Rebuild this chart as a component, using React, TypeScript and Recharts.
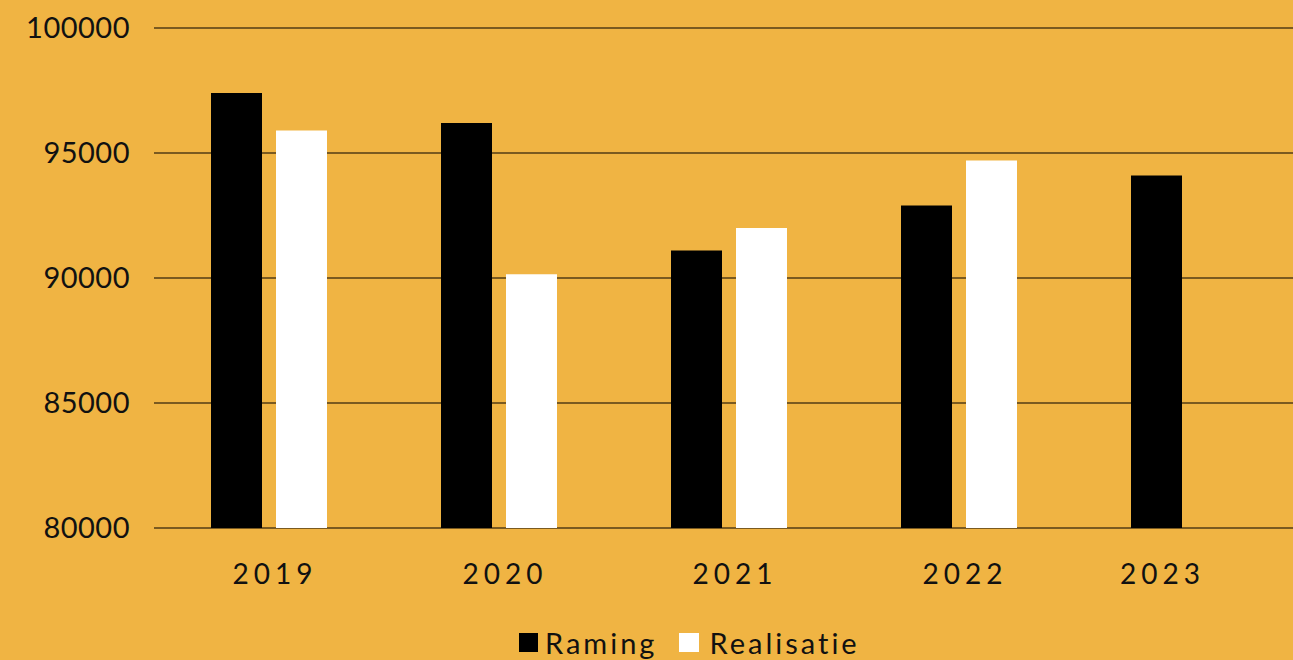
import React from 'react'
import { BarChart, Bar, XAxis, YAxis, CartesianGrid } from 'recharts'

const years = ['2019', '2020', '2021', '2022', '2023']
const raming = [97400, 96200, 91100, 92900, 94100]
const realisatie: (number | null)[] = [95900, 90150, 92000, 94700, null]
const yTicks = [80000, 85000, 90000, 95000, 100000]

const data = years.map((year, i) => ({ year, raming: raming[i], realisatie: realisatie[i] }))

const BG = '#F0B443'
const GRID = '#7A5A20'
const INK = '#111111'
const FONT = 'Lato, "DejaVu Sans", sans-serif'

const BAR = 51
const GAP = 14

const XTick = (props: any) => {
  const { x, y, payload, index } = props
  // single-bar years get their label under the bar, not the group
  const shift = realisatie[index] == null ? -(BAR + GAP) / 2 : 0
  return (
    <text x={x + shift + 6} y={y + 34} dy="0.71em" textAnchor="middle" fill={INK}
      fontSize={28} fontFamily={FONT} letterSpacing={5}>
      {payload.value}
    </text>
  )
}

export default function App() {
  return (
    <div style={{ position: 'absolute', left: 0, top: 0, width: 1293, height: 660, overflow: 'hidden', background: BG }}>
      <BarChart width={1304} height={660} data={data} barSize={BAR} barGap={GAP}
        margin={{ top: 28, right: 0, bottom: 102, left: 0 }}>
        <CartesianGrid horizontal vertical={false} stroke={GRID} strokeWidth={2} />
        <XAxis dataKey="year" height={30} axisLine={false} tickLine={false} tickSize={0} tick={<XTick />} interval={0} />
        <YAxis domain={[80000, 100000]} ticks={yTicks} width={154} axisLine={false} tickLine={false}
          tickSize={0} tickMargin={24} allowDataOverflow
          tick={{ fill: INK, fontSize: 29, fontFamily: FONT, letterSpacing: 0.5 }} />
        <Bar dataKey="raming" name="Raming" fill="#000000" isAnimationActive={false} />
        <Bar dataKey="realisatie" name="Realisatie" fill="#FFFFFF" isAnimationActive={false} />
      </BarChart>
      {/* legend */}
      <div style={{ position: 'absolute', left: 519, top: 625, display: 'flex',
        alignItems: 'center', fontFamily: FONT, fontSize: 29, letterSpacing: 3, color: INK }}>
        <span style={{ width: 19, height: 19, background: '#000', display: 'inline-block', marginRight: 7 }} />
        <span style={{ marginRight: 22 }}>Raming</span>
        <span style={{ width: 20, height: 19, background: '#fff', display: 'inline-block', marginRight: 10 }} />
        <span>Realisatie</span>
      </div>
    </div>
  )
}
